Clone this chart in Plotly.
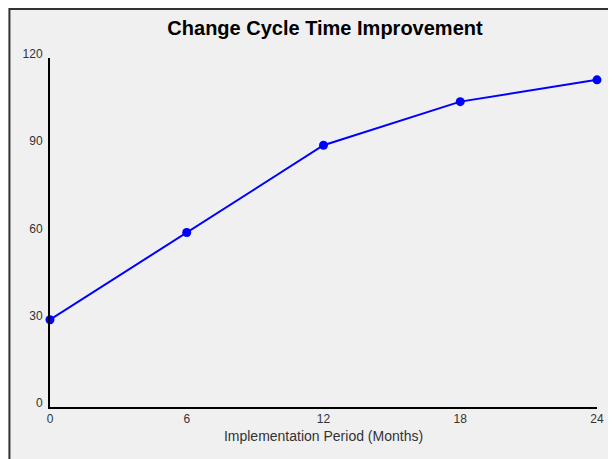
import plotly.graph_objects as go

months = [0, 6, 12, 18, 24]
cycle_time = [30, 60, 90, 105, 112.5]
x_ticks = [0, 6, 12, 18, 24]
y_ticks = [0, 30, 60, 90, 120]

W, H = 608, 451
L, R, T, B = 42, 13, 50, 52
pw, ph = W - L - R, H - T - B

fig = go.Figure()
fig.add_trace(go.Scatter(
    x=months, y=cycle_time, mode="lines+markers",
    line=dict(color="#0000ff", width=2),
    marker=dict(color="#0000ff", size=9),
    showlegend=False, cliponaxis=False,
))

# dark border on left/top of gray panel
fig.add_shape(type="rect", xref="paper", yref="paper",
              x0=(1 - L) / pw, x1=(W + 20 - L) / pw,
              y0=-(H + 20 - (H - B)) / ph, y1=((H - B) - 1) / ph,
              fillcolor="rgba(0,0,0,0)", line=dict(color="#333333", width=2),
              layer="below")

fig.update_layout(
    width=W, height=H,
    margin=dict(l=L, r=R, t=T, b=B),
    paper_bgcolor="#f0f0f0",
    plot_bgcolor="rgba(0,0,0,0)",
    font=dict(family="Liberation Sans, Arial, sans-serif", color="#333333", size=12),
    title=dict(text="<b>Change Cycle Time Improvement</b>",
               x=317 / W, xanchor="center", y=1 - 20 / H, yanchor="middle",
               font=dict(size=20, color="#000000")),
    xaxis=dict(range=[0, 24], tickvals=x_ticks, ticks="", showgrid=False,
               zeroline=False, showline=True, linecolor="#000000", linewidth=2,
               tickfont=dict(size=12, color="#333333"),
               title=dict(text="Implementation Period (Months)",
                          font=dict(size=14, color="#333333"), standoff=6)),
    yaxis=dict(range=[0, 120], tickvals=y_ticks, ticks="", showgrid=False,
               zeroline=False, showline=True, linecolor="#000000", linewidth=2,
               tickfont=dict(size=12, color="#333333"),
               ticklabelshift=-4, ticklabelstandoff=3),
)

fig.write_html("out.html")
